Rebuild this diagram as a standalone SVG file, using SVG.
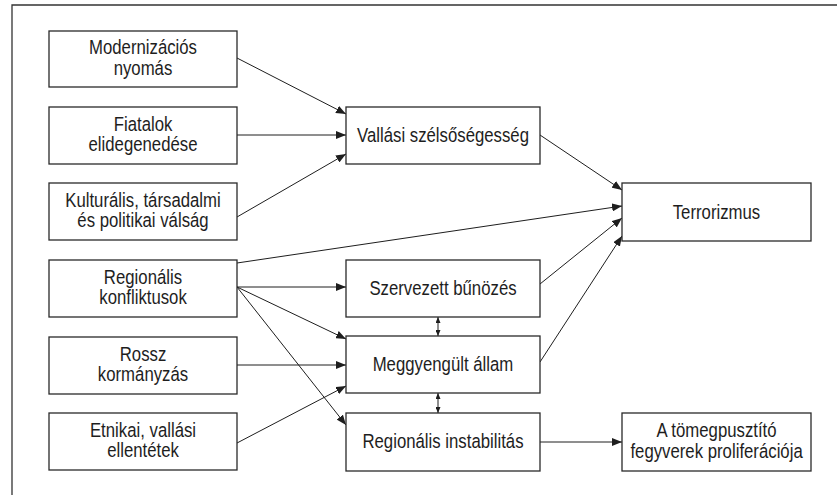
<svg xmlns="http://www.w3.org/2000/svg" width="837" height="495" viewBox="0 0 837 495">
<style>
.box{fill:#fff;stroke:#2a2a2a;stroke-width:1.3}
.t{font-family:"Liberation Sans",Arial,sans-serif;font-size:19.5px;fill:#1e1e1e;text-anchor:middle;transform-box:fill-box;transform-origin:center;transform:scaleX(0.86)}
.c{stroke:#1e1e1e;stroke-width:1;fill:none;marker-end:url(#ah)}
.d{stroke:#1e1e1e;stroke-width:1;fill:none;marker-end:url(#sh);marker-start:url(#sh)}
.frame{stroke:#333;stroke-width:1.3;fill:none}
</style>
<defs>
<marker id="ah" viewBox="0 0 10 8" refX="10" refY="4" markerWidth="10" markerHeight="8" markerUnits="userSpaceOnUse" orient="auto"><path d="M0,0 L10,4 L0,8 Z" fill="#1e1e1e"/></marker>
<marker id="sh" viewBox="0 0 6 5" refX="6" refY="2.5" markerWidth="6" markerHeight="5" markerUnits="userSpaceOnUse" orient="auto-start-reverse"><path d="M0,0 L6,2.5 L0,5 Z" fill="#1e1e1e"/></marker>
</defs>
<rect width="837" height="495" fill="#fff"/>
<path class="frame" d="M12,495 V5 H837"/>
<g id="connectors">
<line class="c" x1="237" y1="58" x2="346" y2="114"/>
<line class="c" x1="237" y1="135" x2="346" y2="135"/>
<line class="c" x1="237" y1="217" x2="346" y2="154"/>
<line class="c" x1="540" y1="135" x2="622" y2="190"/>
<line class="c" x1="237" y1="263" x2="622" y2="206"/>
<line class="c" x1="540" y1="284" x2="622" y2="218"/>
<line class="c" x1="540" y1="362" x2="622" y2="236"/>
<line class="c" x1="237" y1="287" x2="346" y2="287"/>
<line class="c" x1="237" y1="287" x2="346" y2="339"/>
<line class="c" x1="237" y1="287" x2="346" y2="425"/>
<line class="c" x1="237" y1="365" x2="346" y2="365"/>
<line class="c" x1="237" y1="443" x2="346" y2="386"/>
<line class="d" x1="438" y1="317" x2="438" y2="336"/>
<line class="d" x1="438" y1="393" x2="438" y2="413"/>
<line class="c" x1="540" y1="442" x2="622" y2="442"/>
</g>
<g id="n-modernizacios"><rect class="box" x="49" y="31" width="188" height="56"/><text class="t" x="143" y="54.5">Modernizációs</text><text class="t" x="143" y="74.7">nyomás</text></g>
<g id="n-fiatalok"><rect class="box" x="49" y="107" width="188" height="57"/><text class="t" x="143" y="131">Fiatalok</text><text class="t" x="143" y="151.2">elidegenedése</text></g>
<g id="n-kulturalis"><rect class="box" x="49" y="183" width="188" height="57"/><text class="t" x="143" y="207">Kulturális, társadalmi</text><text class="t" x="143" y="227.2">és politikai válság</text></g>
<g id="n-regkonf"><rect class="box" x="49" y="260" width="188" height="57"/><text class="t" x="143" y="284">Regionális</text><text class="t" x="143" y="304.2">konfliktusok</text></g>
<g id="n-rossz"><rect class="box" x="49" y="337" width="188" height="57"/><text class="t" x="143" y="361">Rossz</text><text class="t" x="143" y="381.2">kormányzás</text></g>
<g id="n-etnikai"><rect class="box" x="49" y="413" width="188" height="57"/><text class="t" x="143" y="437">Etnikai, vallási</text><text class="t" x="143" y="457.2">ellentétek</text></g>
<g id="n-vallasi"><rect class="box" x="346" y="107" width="194" height="57"/><text class="t" x="443" y="142">Vallási szélsőségesség</text></g>
<g id="n-szervezett"><rect class="box" x="346" y="260" width="194" height="57"/><text class="t" x="443" y="295">Szervezett bűnözés</text></g>
<g id="n-meggyengult"><rect class="box" x="346" y="336" width="194" height="57"/><text class="t" x="443" y="371">Meggyengült állam</text></g>
<g id="n-reginstab"><rect class="box" x="346" y="413" width="194" height="58"/><text class="t" x="443" y="448">Regionális instabilitás</text></g>
<g id="n-terrorizmus"><rect class="box" x="622" y="183" width="189" height="58"/><text class="t" x="716.5" y="219">Terrorizmus</text></g>
<g id="n-tomegpusztito"><rect class="box" x="622" y="413" width="189" height="58"/><text class="t" x="716.5" y="437.5">A tömegpusztító</text><text class="t" x="716.5" y="458">fegyverek proliferációja</text></g>
</svg>
